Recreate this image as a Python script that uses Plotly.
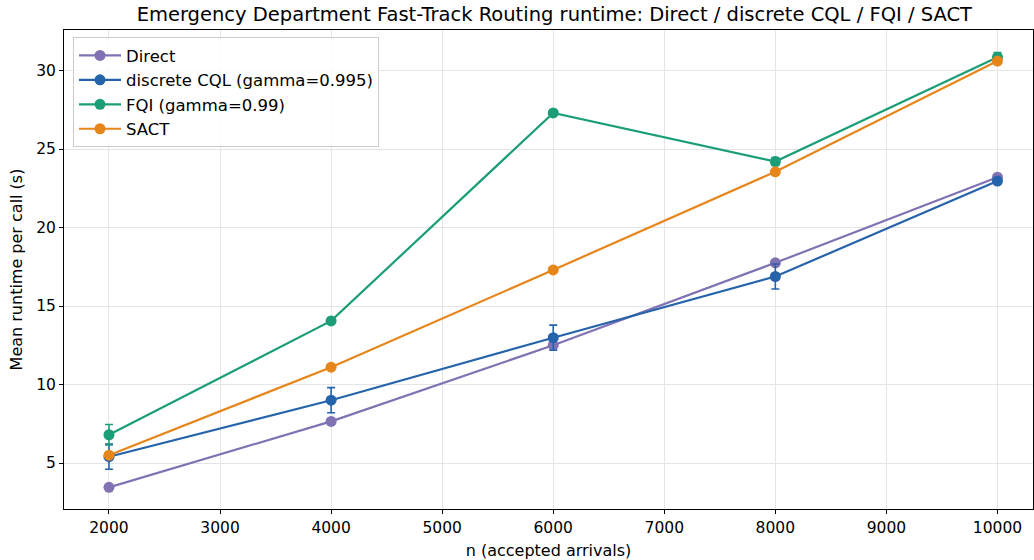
import plotly.graph_objects as go

n_values = [2000, 4000, 6000, 8000, 10000]

direct_mean = [3.45, 7.65, 12.5, 17.75, 23.2]
direct_err = [0.1, 0.1, 0.15, 0.1, 0.1]

cql_mean = [5.4, 9.0, 12.98, 16.88, 22.96]
cql_err = [0.8, 0.8, 0.8, 0.8, 0.15]

fqi_mean = [6.8, 14.05, 27.3, 24.2, 30.85]
fqi_err = [0.65, 0.1, 0.1, 0.25, 0.3]

sact_mean = [5.5, 11.1, 17.3, 23.55, 30.6]
sact_err = [0.1, 0.1, 0.1, 0.1, 0.1]

series = [
    ("Direct", direct_mean, direct_err, "#8172b3"),
    ("discrete CQL (gamma=0.995)", cql_mean, cql_err, "#2563aa"),
    ("FQI (gamma=0.99)", fqi_mean, fqi_err, "#1b9e77"),
    ("SACT", sact_mean, sact_err, "#e6861a"),
]

fig = go.Figure()
for i, (name, mean, err, color) in enumerate(series):
    fig.add_trace(go.Scatter(
        x=n_values, y=mean, name=name, mode="lines+markers",
        legendgroup=f"g{i}",
        line=dict(color=color, width=2.2),
        marker=dict(color=color, size=11),
        error_y=dict(type="data", array=err, visible=True, color=color,
                     thickness=1.6, width=4),
    ))

axis_common = dict(
    showline=True, linecolor="black", linewidth=1, mirror=True,
    ticks="outside", ticklen=4, tickcolor="black", automargin=False,
    showgrid=True, gridcolor="#e5e5e5", gridwidth=1, zeroline=False,
    tickfont=dict(family="DejaVu Sans", size=15.5, color="black"),
)

fig.update_layout(
    width=1034, height=560,
    margin=dict(l=64, r=1, t=30, b=51),
    paper_bgcolor="white", plot_bgcolor="white",
    title=dict(text="Emergency Department Fast-Track Routing runtime: Direct / discrete CQL / FQI / SACT",
               xref="paper", x=0.506, xanchor="center", y=1 - 14 / 560, yanchor="middle",
               font=dict(family="DejaVu Sans", size=19.5, color="black")),
    font=dict(family="DejaVu Sans", size=15.5, color="black"),
    xaxis=dict(axis_common, range=[1595, 10320], tickmode="linear", tick0=2000, dtick=1000,
               tickformat="d",
               title=dict(text="n (accepted arrivals)", standoff=9,
                          font=dict(family="DejaVu Sans", size=16))),
    yaxis=dict(axis_common, range=[2.07, 32.58], tickmode="linear", tick0=5, dtick=5,
               title=dict(text="Mean runtime per call (s)", standoff=9,
                          font=dict(family="DejaVu Sans", size=16))),
    legend=dict(x=0.0093, y=0.985, xanchor="left", yanchor="top",
                bgcolor="rgba(255,255,255,0.85)", bordercolor="#cccccc", borderwidth=1,
                font=dict(family="DejaVu Sans", size=16.5, color="black"),
                tracegroupgap=0, itemwidth=42),
)

# remove the page's default 8px body margin so the figure fills the window exactly
fig.write_html("out.html", config={"displayModeBar": False},
               post_script="document.body.style.margin='0';")
